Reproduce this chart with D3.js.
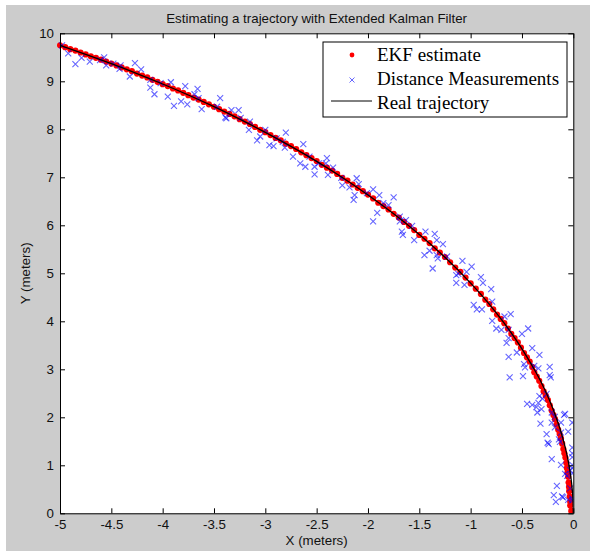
<!DOCTYPE html>
<html lang="en">
<head>
  <meta charset="UTF-8">
  <title>Estimating a trajectory with Extended Kalman Filter</title>
  <script src="https://d3js.org/d3.v7.min.js"></script>
  <style>
    body { margin: 0; background: #fff; }
    svg { display: block; }
    .tick text { font-family: "Liberation Sans", Arial, sans-serif; font-size: 13.3px; fill: #111; }
    .lbl { font-family: "Liberation Sans", Arial, sans-serif; font-size: 13.3px; fill: #111; }
    .leg { font-family: "Liberation Serif", "Times New Roman", serif; font-size: 19px; fill: #000; }
  </style>
</head>
<body>
  <div id="chart"></div>
  <script>
    // tick values and labels
    const xTicks = [-5, -4.5, -4, -3.5, -3, -2.5, -2, -1.5, -1, -0.5, 0];
    const xTickLabels = ["-5", "-4.5", "-4", "-3.5", "-3", "-2.5", "-2", "-1.5", "-1", "-0.5", "0"];
    const yTicks = [0, 1, 2, 3, 4, 5, 6, 7, 8, 9, 10];
    const yTickLabels = ["0", "1", "2", "3", "4", "5", "6", "7", "8", "9", "10"];

    // real trajectory
    const realX = [0, -0.0026, -0.0105, -0.0234, -0.0417, -0.0651, -0.094, -0.128, -0.168, -0.212, -0.262, -0.3175, -0.381, -0.449, -0.522, -0.601, -0.686, -0.778, -0.9, -1.0, -1.25, -1.5, -1.75, -2, -2.25, -2.5, -2.75, -3, -3.25, -3.5, -3.75, -4, -4.25, -4.5, -4.75, -5];
    const realY = [0, 0.25, 0.5, 0.75, 1.0, 1.25, 1.5, 1.75, 2.0, 2.25, 2.5, 2.75, 3.0, 3.25, 3.5, 3.75, 4.0, 4.25, 4.56, 4.796, 5.333, 5.809, 6.24, 6.633, 6.996, 7.331, 7.644, 7.937, 8.212, 8.471, 8.714, 8.944, 9.162, 9.367, 9.562, 9.747];

    // EKF estimate
    const ekfX = [-0.02, -0.03, -0.03, -0.035, -0.04, -0.042, -0.046, -0.05, -0.056, -0.062, -0.068, -0.077, -0.087, -0.097, -0.108, -0.12, -0.133, -0.147, -0.162, -0.178, -0.194, -0.211, -0.229, -0.247, -0.268, -0.289, -0.31, -0.332, -0.356, -0.38, -0.40, -0.425, -0.452, -0.48, -0.51, -0.54, -0.572, -0.604, -0.637, -0.672, -0.707, -0.743, -0.78, -0.818, -0.857,
      -0.90, -0.95, -1.00, -1.05, -1.10, -1.15, -1.20, -1.25, -1.30, -1.35, -1.40, -1.45, -1.50, -1.55, -1.60, -1.65, -1.70, -1.75, -1.80, -1.85, -1.90, -1.95, -2.00, -2.05, -2.10, -2.15, -2.20, -2.25, -2.30, -2.35, -2.40, -2.45, -2.50, -2.55, -2.60, -2.65, -2.70, -2.75, -2.80, -2.85, -2.90, -2.95, -3.00, -3.05, -3.10, -3.15, -3.20, -3.25, -3.30, -3.35, -3.40, -3.45, -3.50, -3.55, -3.60, -3.65, -3.70, -3.75, -3.80, -3.85, -3.90, -3.95, -4.00, -4.05, -4.10, -4.15, -4.20, -4.25, -4.30, -4.35, -4.40, -4.45, -4.50, -4.55, -4.60, -4.65, -4.70, -4.75, -4.80, -4.85, -4.90, -4.95, -5.00];
    const ekfY = [0.05, 0.16, 0.24, 0.35, 0.46, 0.55, 0.64, 0.76, 0.85, 0.94, 1.05, 1.16, 1.25, 1.34, 1.45, 1.56, 1.65, 1.74, 1.85, 1.96, 2.05, 2.14, 2.25, 2.36, 2.45, 2.54, 2.65, 2.76, 2.85, 2.94, 3.05, 3.16, 3.25, 3.34, 3.45, 3.56, 3.65, 3.74, 3.85, 3.96, 4.05, 4.14, 4.25, 4.36, 4.45,
      4.57, 4.68, 4.79, 4.91, 5.03, 5.12, 5.23, 5.34, 5.43, 5.52, 5.63, 5.72, 5.80, 5.90, 5.99, 6.07, 6.16, 6.24, 6.33, 6.40, 6.47, 6.56, 6.64, 6.71, 6.78, 6.85, 6.93, 6.99, 7.07, 7.14, 7.20, 7.26, 7.34, 7.40, 7.46, 7.52, 7.59, 7.65, 7.70, 7.77, 7.82, 7.88, 7.94, 7.99, 8.05, 8.11, 8.16, 8.21, 8.27, 8.32, 8.37, 8.42, 8.47, 8.52, 8.57, 8.62, 8.66, 8.71, 8.76, 8.81, 8.85, 8.90, 8.94, 8.99, 9.03, 9.08, 9.12, 9.16, 9.21, 9.25, 9.29, 9.33, 9.37, 9.41, 9.45, 9.49, 9.52, 9.56, 9.60, 9.64, 9.67, 9.71, 9.75];

    // distance measurements
    const measX = [-4.98, -4.92, -4.85, -4.79, -4.71, -4.61, -4.57, -4.55, -4.48, -4.41, -4.42, -4.27, -4.21, -4.32, -4.12, -4.08, -4.12, -4.02, -3.92, -3.95, -3.89, -3.82, -3.78, -3.76, -3.69, -3.66, -3.65, -3.62, -3.44, -3.47, -3.39, -3.38, -3.33, -3.26, -3.24, -3.15, -3.16, -3.08, -3.05, -3.00, -2.96, -2.92, -2.89, -2.83, -2.80, -2.81, -2.73, -2.63, -2.66, -2.61, -2.57, -2.52, -2.52, -2.48, -2.40, -2.41, -2.34, -2.39, -2.26, -2.25,
      -2.11, -2.18, -2.13, -2.14, -2.09, -1.95, -2.01, -1.89, -1.75, -1.85, -1.80, -1.91, -1.95, -1.69, -1.69, -1.63, -1.57, -1.67, -1.66, -1.55, -1.44, -1.35, -1.33, -1.40, -1.45, -1.33, -1.27, -1.32, -1.23, -1.37, -1.08, -1.12, -1.04, -1.14, -1.06, -0.99, -1.14, -0.90, -0.88, -0.80, -0.97, -0.94, -0.89, -0.79, -0.79, -0.67, -0.61, -0.75, -0.70, -0.63, -0.63, -0.65, -0.44, -0.50, -0.55, -0.63, -0.40, -0.33, -0.48, -0.47, -0.38, -0.34, -0.23, -0.23, -0.49, -0.62,
      -0.22, -0.26, -0.33, -0.30, -0.45, -0.40, -0.34, -0.36, -0.31, -0.35, -0.21, -0.08, -0.09, -0.18, -0.21, -0.01, -0.12, -0.32, -0.18, -0.26, -0.12, -0.05, -0.14, -0.25, -0.24, -0.13, -0.01, -0.01, -0.01, -0.21, -0.12, -0.01, -0.08, -0.06, -0.01, -0.03, -0.01, -0.03, -0.16, -0.19, -0.17, -0.10, -0.05, -0.01, -0.01, -0.11];
    const measY = [9.75, 9.58, 9.36, 9.49, 9.41, 9.44, 9.50, 9.33, 9.37, 9.33, 9.26, 9.38, 9.25, 9.10, 8.87, 8.73, 9.03, 8.96, 8.98, 8.68, 8.49, 8.58, 8.90, 8.52, 8.73, 8.84, 8.65, 8.42, 8.65, 8.47, 8.25, 8.23, 8.40, 8.40, 8.24, 8.16, 7.99, 7.77, 7.85, 7.99, 7.67, 7.65, 7.81, 7.74, 7.93, 7.62, 7.43, 7.69, 7.29, 7.22, 7.43, 7.22, 7.06, 7.29, 7.40, 7.29, 7.20, 7.05, 6.99, 6.83,
      6.98, 6.79, 6.63, 6.53, 6.86, 6.75, 6.67, 6.63, 6.58, 6.46, 6.42, 6.26, 6.08, 6.18, 6.08, 6.11, 5.99, 5.87, 5.80, 5.69, 5.87, 5.82, 5.69, 5.47, 5.38, 5.38, 5.61, 5.31, 5.35, 5.10, 5.26, 4.99, 5.03, 4.80, 4.76, 5.14, 4.96, 4.92, 4.80, 4.67, 4.34, 4.25, 4.25, 4.41, 4.01, 4.10, 4.15, 3.85, 3.82, 3.82, 3.65, 3.55, 3.85, 3.74, 3.35, 3.26, 3.44, 3.30, 3.11, 3.04, 3.07, 3.02, 3.05, 2.88, 2.86, 2.83,
      2.83, 2.49, 2.44, 2.39, 2.28, 2.26, 2.30, 2.21, 2.17, 2.10, 2.10, 2.07, 2.05, 2.01, 1.89, 1.89, 1.89, 1.87, 1.79, 1.65, 1.68, 1.70, 1.54, 1.47, 1.44, 1.49, 1.37, 1.25, 1.17, 1.13, 1.01, 1.01, 0.82, 0.78, 0.83, 0.90, 0.94, 0.52, 0.57, 0.38, 0.24, 0.33, 0.28, 0.31, 0.27, 0.35];

    const W = 590, H = 551;
    const plot = { left: 60, top: 33.3, right: 573.3, bottom: 513.3 };

    const svg = d3.select("#chart").append("svg")
      .attr("width", W).attr("height", H);

    // figure background
    svg.append("rect").attr("x", 6).attr("y", 5).attr("width", W - 6).attr("height", H - 5)
      .attr("fill", "#cccccc");
    svg.append("rect").attr("x", plot.left).attr("y", plot.top)
      .attr("width", plot.right - plot.left).attr("height", plot.bottom - plot.top)
      .attr("fill", "#fff");

    const x = d3.scaleLinear().domain([-5, 0]).range([plot.left, plot.right]);
    const y = d3.scaleLinear().domain([0, 10]).range([plot.bottom, plot.top]);

    const clip = svg.append("clipPath").attr("id", "clip").append("rect")
      .attr("x", plot.left - 3).attr("y", plot.top - 3)
      .attr("width", plot.right - plot.left + 3).attr("height", plot.bottom - plot.top + 3);
    const g = svg.append("g").attr("clip-path", "url(#clip)");

    // EKF estimate (red dots)
    const ekf = ekfX.map((v, i) => [v, ekfY[i]]);
    g.selectAll(".ekf").data(ekf).enter().append("circle")
      .attr("class", "ekf")
      .attr("cx", d => x(d[0])).attr("cy", d => y(d[1]))
      .attr("r", 3.1).attr("fill", "#ff0000");

    // measurements (blue x)
    const meas = measX.map((v, i) => [v, measY[i]]);
    const s = 3;
    g.selectAll(".meas").data(meas).enter().append("path")
      .attr("class", "meas")
      .attr("d", d => {
        const cx = x(d[0]), cy = y(d[1]);
        return `M${cx - s},${cy - s}L${cx + s},${cy + s}M${cx - s},${cy + s}L${cx + s},${cy - s}`;
      })
      .attr("stroke", "#0000ff").attr("stroke-opacity", 0.6).attr("stroke-width", 1.1).attr("fill", "none");

    // real trajectory
    const real = realX.map((v, i) => [v, realY[i]]);
    g.append("path").datum(real)
      .attr("d", d3.line().x(d => x(d[0])).y(d => y(d[1])).curve(d3.curveMonotoneY))
      .attr("fill", "none").attr("stroke", "#000").attr("stroke-width", 1.3);

    // axes
    const xi = d => xTickLabels[xTicks.indexOf(d)];
    const yi = d => yTickLabels[yTicks.indexOf(d)];
    svg.append("g").attr("transform", `translate(0,${plot.bottom})`)
      .call(d3.axisBottom(x).tickValues(xTicks).tickFormat(xi).tickSizeInner(-5).tickSizeOuter(0).tickPadding(6.5));
    svg.append("g").attr("transform", `translate(0,${plot.top})`)
      .call(d3.axisTop(x).tickValues(xTicks).tickFormat("").tickSizeInner(-5).tickSizeOuter(0));
    svg.append("g").attr("transform", `translate(${plot.left},0)`)
      .call(d3.axisLeft(y).tickValues(yTicks).tickFormat(yi).tickSizeInner(-5).tickSizeOuter(0).tickPadding(6));
    svg.append("g").attr("transform", `translate(${plot.right},0)`)
      .call(d3.axisRight(y).tickValues(yTicks).tickFormat("").tickSizeInner(-5).tickSizeOuter(0));
    svg.selectAll(".domain").attr("stroke", "#000");
    svg.selectAll(".tick line").attr("stroke", "#000");

    // title and axis labels
    svg.append("text").attr("class", "lbl").attr("x", (plot.left + plot.right) / 2).attr("y", 23)
      .attr("text-anchor", "middle").text("Estimating a trajectory with Extended Kalman Filter");
    svg.append("text").attr("class", "lbl").attr("x", (plot.left + plot.right) / 2).attr("y", 545)
      .attr("text-anchor", "middle").text("X (meters)");
    svg.append("text").attr("class", "lbl")
      .attr("transform", `translate(30,${(plot.top + plot.bottom) / 2}) rotate(-90)`)
      .attr("text-anchor", "middle").text("Y (meters)");

    // legend
    const leg = svg.append("g");
    leg.append("rect").attr("x", 323).attr("y", 42).attr("width", 244).attr("height", 75)
      .attr("fill", "#fff").attr("stroke", "#000").attr("stroke-width", 1);
    leg.append("circle").attr("cx", 352).attr("cy", 55).attr("r", 2.4).attr("fill", "#ff0000");
    leg.append("path").attr("d", "M349.5,77.5L354.5,82.5M349.5,82.5L354.5,77.5")
      .attr("stroke", "#0000ff").attr("stroke-opacity", 0.6).attr("fill", "none");
    leg.append("line").attr("x1", 331).attr("x2", 372).attr("y1", 101).attr("y2", 101)
      .attr("stroke", "#000").attr("stroke-width", 1);
    const legText = ["EKF estimate", "Distance Measurements", "Real trajectory"];
    leg.selectAll(".leg").data(legText).enter().append("text")
      .attr("class", "leg").attr("x", 377).attr("y", (d, i) => 61 + i * 24).text(d => d);
  </script>
</body>
</html>
